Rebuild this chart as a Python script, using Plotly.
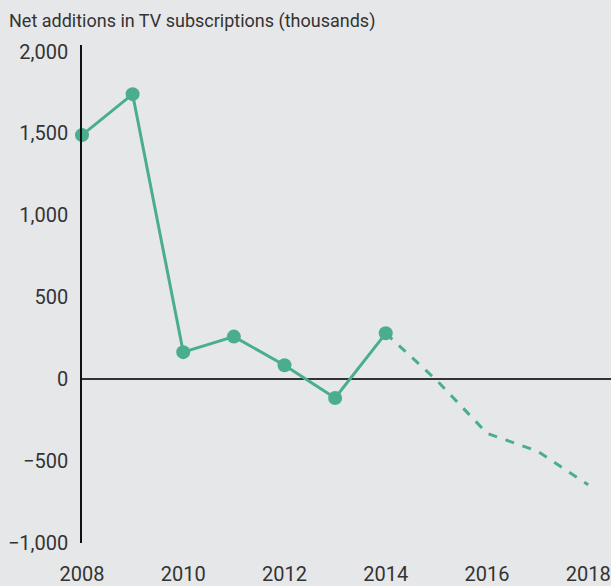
import plotly.graph_objects as go

years_actual = [2008, 2009, 2010, 2011, 2012, 2013, 2014]
values_actual = [1490, 1740, 165, 260, 85, -115, 280]
years_forecast = [2014, 2015, 2016, 2017, 2018]
values_forecast = [280, -5, -330, -440, -645]

y_tickvals = [-1000, -500, 0, 500, 1000, 1500, 2000]
y_ticktext = ["\u22121,000", "\u2212500", "0", "500", "1,000", "1,500", "2,000"]
x_tickvals = [2008, 2010, 2012, 2014, 2016, 2018]
x_ticktext = [str(v) for v in x_tickvals]

color = "#4aae8e"
font = "Roboto, sans-serif"
text_color = "#333333"

fig = go.Figure()
fig.add_trace(go.Scatter(x=years_forecast, y=values_forecast, mode="lines",
                         line=dict(color=color, width=3, dash="dash"),
                         hoverinfo="skip", cliponaxis=False))
fig.add_trace(go.Scatter(x=years_actual, y=values_actual, mode="lines+markers",
                         line=dict(color=color, width=3),
                         marker=dict(color=color, size=14),
                         cliponaxis=False))

fig.update_layout(
    width=611, height=586,
    margin=dict(l=82, r=0, t=45, b=41),
    paper_bgcolor="#e6e7e9", plot_bgcolor="#e6e7e9",
    showlegend=False,
    font=dict(family=font, color=text_color, size=20),
    xaxis=dict(range=[2008, 2018.45], tickvals=x_tickvals, ticktext=x_ticktext,
               showgrid=False, zeroline=False, showline=False,
               ticks="", ticklabelstandoff=17,
               tickfont=dict(size=20)),
    yaxis=dict(range=[-1000, 2040], tickvals=y_tickvals, ticktext=y_ticktext,
               showgrid=False, zeroline=True, zerolinecolor="#333", zerolinewidth=1.5,
               showline=True, linecolor="#111", linewidth=1.5,
               ticks="", ticklabelstandoff=8,
               tickfont=dict(size=20)),
    annotations=[dict(text="Net additions in TV subscriptions (thousands)",
                      xref="paper", yref="paper", x=-82/529, y=1 + 24/500,
                      xanchor="left", yanchor="middle", showarrow=False,
                      xshift=7, font=dict(size=18, family=font, color=text_color))],
)

fig.write_html("out.html")
